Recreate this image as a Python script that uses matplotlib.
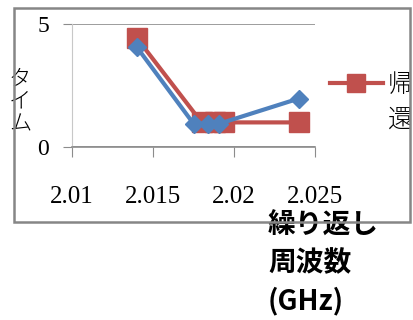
import matplotlib
matplotlib.use('Agg')
from matplotlib import pyplot as plt
from matplotlib.lines import Line2D
from matplotlib.patches import Rectangle

# Data
freq_red = [2.014, 2.018, 2.0188, 2.0194, 2.024]
time_red = [4.43, 1.0, 1.0, 1.0, 1.0]
freq_blue = [2.014, 2.0175, 2.0184, 2.0191, 2.024]
time_blue = [4.06, 0.95, 0.95, 0.95, 1.97]
x_ticks = [2.01, 2.015, 2.02, 2.025]
x_tick_labels = ['2.01', '2.015', '2.02', '2.025']
y_ticks = [0, 5]

red = '#C0504D'
blue = '#4F81BD'
W, H = 414, 320

fig = plt.figure(figsize=(W / 100, H / 100), dpi=100)
ax = fig.add_axes([72 / W, 1 - 147 / H, 243 / W, 123 / H])

ax.plot(freq_red, time_red, color=red, lw=3, marker='s', ms=14, zorder=3)
ax.plot(freq_blue, time_blue, color=blue, lw=3, marker='D', ms=9.5, zorder=4)

ax.set_xlim(2.01, 2.025)
ax.set_ylim(0, 5)
ax.set_xticks(x_ticks)
ax.set_xticklabels(x_tick_labels)
ax.set_yticks(y_ticks)

for s in ['top', 'right']:
    ax.spines[s].set_visible(False)
ax.spines['left'].set_color('#c8c8c8')
ax.spines['bottom'].set_color('#8c8c8c')
ax.spines['bottom'].set_linewidth(1.2)
ax.yaxis.grid(True, color='#8c8c8c', lw=1.2)
ax.set_axisbelow(True)

ax.tick_params(axis='x', direction='out', length=7, color='#8c8c8c', pad=21,
               labelsize=18)
ax.tick_params(axis='y', direction='out', length=6.5, color='#8c8c8c', pad=10,
               labelsize=17)
for lab in ax.get_xticklabels() + ax.get_yticklabels():
    lab.set_fontfamily('Liberation Serif')

ax.set_ylabel('タ\nイ\nム', rotation=0, fontsize=16, family='Noto Sans CJK JP',
              fontweight='light', linespacing=1.05, ha='center', va='center')
ax.yaxis.set_label_coords(-0.214, 0.366)

ax.set_xlabel('繰り返し\n周波数\n(GHz)', fontsize=20, family='Noto Sans CJK JP',
              fontweight='bold', linespacing=1.4, ha='left', va='top')
ax.xaxis.set_label_coords(0.807, -0.53)

# legend (only the red entry is visible, text cut by the chart border)
fig.add_artist(Line2D([330 / W, 356 / W, 383 / W], [1 - 83 / H] * 3,
                      color=red, lw=3, marker='s', ms=13, markevery=[1]))
fig.text(388 / W, 1 - 71 / H, '帰\n還', fontsize=18, family='Noto Sans CJK JP',
         fontweight='light', ha='left', va='top', linespacing=1.4)

# mask beyond border, then chart border
fig.add_artist(Rectangle((410.5 / W, 0), (W - 410.5) / W, 1 - 8 / H,
                         transform=fig.transFigure, facecolor='white',
                         edgecolor='none', zorder=10))
fig.add_artist(Rectangle((14 / W, 1 - 222 / H), 396 / W, 214 / H,
                         transform=fig.transFigure, fill=False,
                         edgecolor='#868686', lw=1.8, zorder=11))

fig.savefig('out.png', dpi=100)
